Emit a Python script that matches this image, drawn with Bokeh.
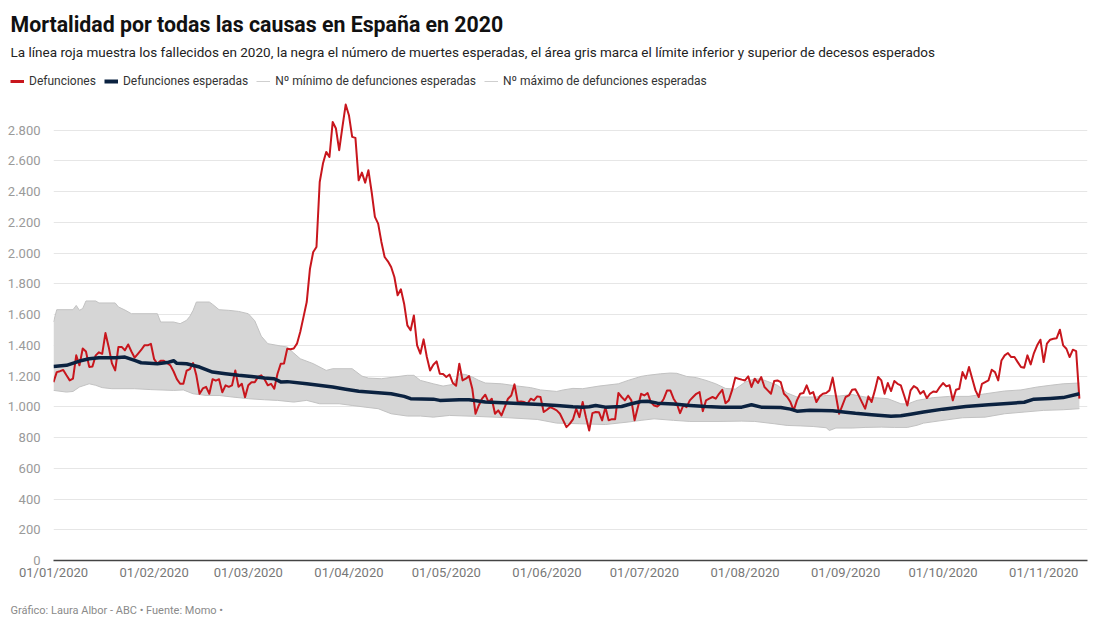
import pandas as pd
from bokeh.plotting import figure
from bokeh.layouts import column
from bokeh.models import (Range1d, FixedTicker, DatetimeTickFormatter, CustomJSTickFormatter,
                          Label, Legend, LegendItem)
from bokeh.embed import file_html
from bokeh.resources import INLINE

START = "2020-01-01"

# Daily deaths 2020 (from 01/01/2020)
deaths = [
    1161, 1226, 1232, 1240, 1205, 1172, 1183, 1335, 1270, 1380,
    1360, 1260, 1262, 1335, 1355, 1345, 1480, 1390, 1283, 1237,
    1390, 1390, 1368, 1406, 1360, 1320, 1345, 1370, 1400, 1400,
    1410, 1310, 1280, 1300, 1300, 1285, 1270, 1230, 1180, 1150,
    1150, 1235, 1245, 1285, 1205, 1085, 1120, 1130, 1085, 1180,
    1170, 1180, 1095, 1140, 1130, 1140, 1237, 1130, 1150, 1063,
    1140, 1160, 1160, 1195, 1205, 1180, 1140, 1150, 1118, 1215,
    1280, 1282, 1378, 1375, 1380, 1411, 1487, 1584, 1682, 1899,
    2008, 2040, 2463, 2583, 2659, 2626, 2854, 2811, 2670, 2822,
    2967, 2898, 2757, 2750, 2474, 2524, 2459, 2540, 2398, 2236,
    2192, 2073, 1975, 1947, 1910, 1845, 1726, 1765, 1671, 1530,
    1498, 1595, 1400, 1346, 1439, 1324, 1237, 1274, 1296, 1216,
    1213, 1194, 1210, 1155, 1137, 1281, 1172, 1183, 1200, 1118,
    955, 1009, 1053, 1079, 1031, 1053, 955, 977, 944, 998,
    1053, 1074, 1146, 1031, 1035, 1031, 1020, 1053, 1042, 1068,
    1064, 966, 981, 998, 988, 977, 955, 912, 868, 889,
    918, 988, 933, 1031, 933, 846, 959, 966, 965, 912,
    998, 912, 920, 920, 1090, 1064, 1042, 1074, 1042, 912,
    998, 1085, 1074, 1090, 1031, 1009, 1002, 1020, 1053, 1107,
    1107, 1053, 1020, 959, 1009, 998, 1042, 1064, 1085, 1096,
    972, 1042, 1053, 1064, 1053, 1085, 1111, 1024, 1042, 1107,
    1190, 1183, 1177, 1172, 1198, 1129, 1183, 1155, 1194, 1129,
    1107, 1085, 1168, 1172, 1161, 1085, 1064, 1031, 977, 1042,
    1085, 1090, 1140, 1085, 1096, 1031, 1068, 1085, 1090, 1107,
    1190, 1074, 955, 1009, 1064, 1074, 1111, 1114, 1075, 1031,
    988, 1068, 1031, 1107, 1194, 1172, 1085, 1155, 1103, 1168,
    1150, 1140, 1075, 1009, 1107, 1135, 1122, 1085, 1103, 1057,
    1085, 1100, 1096, 1129, 1155, 1133, 1140, 1042, 1111, 1118,
    1226, 1183, 1259, 1183, 1107, 1064, 1150, 1161, 1172, 1241,
    1226, 1172, 1302, 1335, 1350, 1324, 1324, 1291, 1259, 1255,
    1335, 1276, 1350, 1400, 1437, 1291, 1411, 1437, 1443, 1447,
    1502, 1400, 1378, 1324, 1372, 1363, 1053,
]

# Expected deaths (day offset from 01/01/2020, value)
expected_days = [0, 4, 8, 11, 14, 19, 22, 25, 27, 32, 35, 37, 38, 41, 45, 49, 53, 57, 61, 65,
                 68, 70, 72, 78, 86, 90, 94, 100, 104, 108, 110, 117, 119, 125, 128, 133, 140, 145, 150, 155,
                 160, 163, 165, 167, 170, 175, 178, 181, 183, 186, 191, 196, 201, 206, 212, 215, 218, 224, 227, 229,
                 233, 240, 244, 247, 252, 258, 261, 264, 268, 274, 281, 288, 295, 299, 302, 307, 311, 316]
expected_vals = [1263, 1270, 1298, 1313, 1320, 1320, 1324, 1302, 1287, 1280, 1288, 1300, 1283, 1280, 1259, 1226, 1215, 1205, 1198, 1187,
                 1183, 1162, 1164, 1150, 1129, 1115, 1101, 1092, 1085, 1068, 1053, 1050, 1042, 1046, 1046, 1032, 1025, 1020, 1015, 1009,
                 1000, 998, 1000, 1009, 998, 1002, 1020, 1035, 1036, 1024, 1018, 1009, 1002, 998, 998, 1014, 998, 996, 985, 972,
                 977, 975, 965, 958, 949, 938, 942, 952, 966, 985, 1002, 1013, 1024, 1030, 1050, 1055, 1060, 1085]

# Upper limit of expected deaths
upper_days = [0, 1, 6, 7, 8, 9, 10, 13, 14, 19,
              20, 22, 24, 32, 33, 37, 39, 41, 42, 43,
              44, 48, 49, 51, 54, 57, 60, 62, 64, 66,
              70, 72, 74, 76, 80, 84, 86, 92, 95, 97,
              101, 105, 109, 111, 113, 117, 120, 123, 125, 127,
              129, 131, 133, 138, 143, 147, 150, 155, 157, 160,
              163, 168, 174, 177, 181, 183, 187, 190, 192, 195,
              198, 201, 204, 207, 210, 213, 216, 218, 220, 223,
              226, 229, 235, 238, 242, 246, 250, 257, 261, 263,
              266, 271, 276, 282, 287, 293, 298, 303, 307, 311,
              316]
upper_vals = [1552, 1632, 1632, 1660, 1628, 1640, 1689, 1689, 1676, 1676,
              1650, 1630, 1606, 1606, 1552, 1552, 1541, 1563, 1589, 1628,
              1682, 1682, 1667, 1632, 1628, 1621, 1606, 1560, 1460, 1411,
              1396, 1389, 1350, 1313, 1281, 1237, 1248, 1248, 1200, 1187,
              1183, 1194, 1205, 1205, 1172, 1150, 1135, 1146, 1215, 1210,
              1194, 1172, 1155, 1150, 1135, 1125, 1110, 1100, 1110, 1120,
              1118, 1135, 1150, 1172, 1198, 1205, 1215, 1220, 1218, 1198,
              1190, 1172, 1150, 1120, 1115, 1160, 1183, 1180, 1165, 1140,
              1090, 1064, 1064, 1074, 1070, 1080, 1064, 1053, 1020, 1018,
              1042, 1060, 1068, 1068, 1085, 1103, 1110, 1129, 1140, 1150,
              1155]

# Lower limit of expected deaths
lower_days = [0, 4, 6, 8, 11, 13, 15, 18, 25, 30,
              37, 40, 43, 47, 51, 55, 60, 65, 69, 74,
              78, 82, 88, 92, 96, 100, 104, 109, 113, 117,
              122, 130, 140, 149, 155, 162, 170, 177, 181, 185,
              191, 196, 205, 212, 216, 222, 226, 230, 234, 238,
              239, 241, 246, 250, 255, 259, 263, 266, 268, 274,
              280, 287, 293, 299, 305, 311, 316]
lower_vals = [1107, 1096, 1100, 1129, 1150, 1140, 1125, 1118, 1118, 1112,
              1107, 1110, 1085, 1074, 1074, 1064, 1053, 1046, 1042, 1031,
              1042, 1020, 1020, 1009, 998, 988, 955, 940, 940, 933,
              944, 938, 929, 918, 894, 890, 885, 901, 912, 922,
              912, 905, 905, 907, 905, 890, 879, 876, 872, 864,
              846, 862, 862, 866, 868, 866, 866, 880, 894, 912,
              929, 933, 955, 966, 977, 981, 988]

month_ticks = ["2020-01-01", "2020-02-01", "2020-03-01", "2020-04-01", "2020-05-01", "2020-06-01",
               "2020-07-01", "2020-08-01", "2020-09-01", "2020-10-01", "2020-11-01"]
y_ticks = [0, 200, 400, 600, 800, 1000, 1200, 1400, 1600, 1800, 2000, 2200, 2400, 2600, 2800]

TITLE = "Mortalidad por todas las causas en España en 2020"
SUBTITLE = ("La línea roja muestra los fallecidos en 2020, la negra el número de muertes esperadas, "
            "el área gris marca el límite inferior y superior de decesos esperados")
FOOTER = "Gráfico: Laura Albor - ABC • Fuente: Momo •"
SERIES = ["Defunciones", "Defunciones esperadas",
          "Nº mínimo de defunciones esperadas", "Nº máximo de defunciones esperadas"]

DAY_MS = 86400000.0
start_ms = pd.Timestamp(START).value / 1e6


def to_ms(days):
    return [start_ms + d * DAY_MS for d in days]


death_x = to_ms(range(len(deaths)))
exp_x = to_ms(expected_days)
up_x = to_ms(upper_days)
lo_x = to_ms(lower_days)
tick_ms = [pd.Timestamp(m).value / 1e6 for m in month_ticks]

RED = "#c8161d"
NAVY = "#0b2240"
BAND = "#d6d6d6"
BAND_EDGE = "#c2c2c2"
LEG_GRAY = "#cfcfcf"
FONT = "Roboto"

HEAD_H = 99
MAIN_H = 490
FOOT_H = 619 - HEAD_H - MAIN_H


def blank(height):
    f = figure(width=1100, height=height, output_backend="svg", toolbar_location=None,
               x_range=Range1d(0, 1100), y_range=Range1d(0, height),
               x_axis_location=None, y_axis_location=None,
               min_border_left=0, min_border_right=0, min_border_top=0, min_border_bottom=0)
    f.frame_align = False
    f.outline_line_color = None
    f.background_fill_color = "white"
    f.border_fill_color = "white"
    f.xgrid.visible = False
    f.ygrid.visible = False
    return f


# ---------------- header: title, subtitle and legend ----------------
head = blank(HEAD_H)
head.add_layout(Label(x=10, y=HEAD_H - 24, x_units="screen", y_units="screen", text=TITLE,
                      text_font=FONT, text_font_size="21.3px", text_font_style="bold",
                      text_color="#111111", text_baseline="alphabetic"))
head.add_layout(Label(x=10, y=HEAD_H - 51, x_units="screen", y_units="screen", text=SUBTITLE,
                      text_font=FONT, text_font_size="13.5px",
                      text_color="#222222", text_baseline="alphabetic"))

# legend keys (styled like the chart's series, kept out of view)
k_red = head.line(x=[-50, -40], y=[-50, -50], line_color=RED, line_width=3)
k_exp = head.line(x=[-50, -40], y=[-50, -50], line_color=NAVY, line_width=4)
k_min = head.line(x=[-50, -40], y=[-50, -50], line_color=LEG_GRAY, line_width=1)
k_max = head.line(x=[-50, -40], y=[-50, -50], line_color=LEG_GRAY, line_width=1)

legend = Legend(items=[LegendItem(label=SERIES[0], renderers=[k_red]),
                       LegendItem(label=SERIES[1], renderers=[k_exp]),
                       LegendItem(label=SERIES[2], renderers=[k_min]),
                       LegendItem(label=SERIES[3], renderers=[k_max])],
                location=(10, HEAD_H - 91), orientation="horizontal", padding=0, margin=0,
                spacing=8, glyph_width=14, glyph_height=20, label_height=20, label_standoff=5,
                border_line_color=None, background_fill_alpha=0,
                label_text_font=FONT, label_text_font_size="12px", label_text_color="#333333")
head.add_layout(legend)

# ---------------- main chart ----------------
p = figure(width=1100, height=MAIN_H, output_backend="svg", toolbar_location=None,
           x_axis_type="datetime", title=None,
           x_range=Range1d(start_ms, start_ms + 318.5 * DAY_MS),
           y_range=Range1d(0, 3000),
           min_border_left=53, min_border_right=13, min_border_top=0, min_border_bottom=29)
p.frame_align = False
p.outline_line_color = None
p.background_fill_color = "white"
p.border_fill_color = "white"

p.patch(x=up_x + lo_x[::-1], y=upper_vals + lower_vals[::-1],
        fill_color=BAND, fill_alpha=1.0, line_color=None)
p.line(lo_x, lower_vals, line_color=BAND_EDGE, line_width=1)
p.line(up_x, upper_vals, line_color=BAND_EDGE, line_width=1)
p.line(death_x, deaths, line_color=RED, line_width=2, line_join="round")
p.line(exp_x, expected_vals, line_color=NAVY, line_width=3.5, line_join="round")

p.xaxis.ticker = FixedTicker(ticks=tick_ms)
p.xaxis.formatter = DatetimeTickFormatter(days="%d/%m/%Y", months="%d/%m/%Y", years="%d/%m/%Y")
p.xaxis.major_tick_line_color = None
p.xaxis.minor_tick_line_color = None
p.xaxis.major_tick_out = 0
p.xaxis.minor_tick_out = 0
p.xaxis.axis_line_color = "#444444"
p.xaxis.axis_line_width = 1.5
p.xaxis.major_label_text_font = FONT
p.xaxis.major_label_text_font_size = "13px"
p.xaxis.major_label_text_color = "#777777"
p.xaxis.major_label_standoff = 4

p.yaxis.ticker = FixedTicker(ticks=y_ticks)
p.yaxis.formatter = CustomJSTickFormatter(
    code="return tick.toFixed(0).replace(/\\B(?=(\\d{3})+(?!\\d))/g, '.');")
p.yaxis.major_tick_line_color = None
p.yaxis.minor_tick_line_color = None
p.yaxis.major_tick_out = 0
p.yaxis.minor_tick_out = 0
p.yaxis.axis_line_color = None
p.yaxis.major_label_text_font = FONT
p.yaxis.major_label_text_font_size = "13px"
p.yaxis.major_label_text_color = "#9a9a9a"
p.yaxis.major_label_standoff = 13

p.xgrid.grid_line_color = None
p.ygrid.grid_line_color = "#e6e6e6"
p.ygrid.grid_line_width = 1

# ---------------- footer ----------------
foot = blank(FOOT_H)
foot.add_layout(Label(x=10, y=FOOT_H - 21, x_units="screen", y_units="screen", text=FOOTER,
                      text_font=FONT, text_font_size="11px", text_color="#8a8a8a",
                      text_baseline="alphabetic"))

layout = column(head, p, foot, spacing=0)
open("out.html", "w").write(file_html(layout, INLINE))
